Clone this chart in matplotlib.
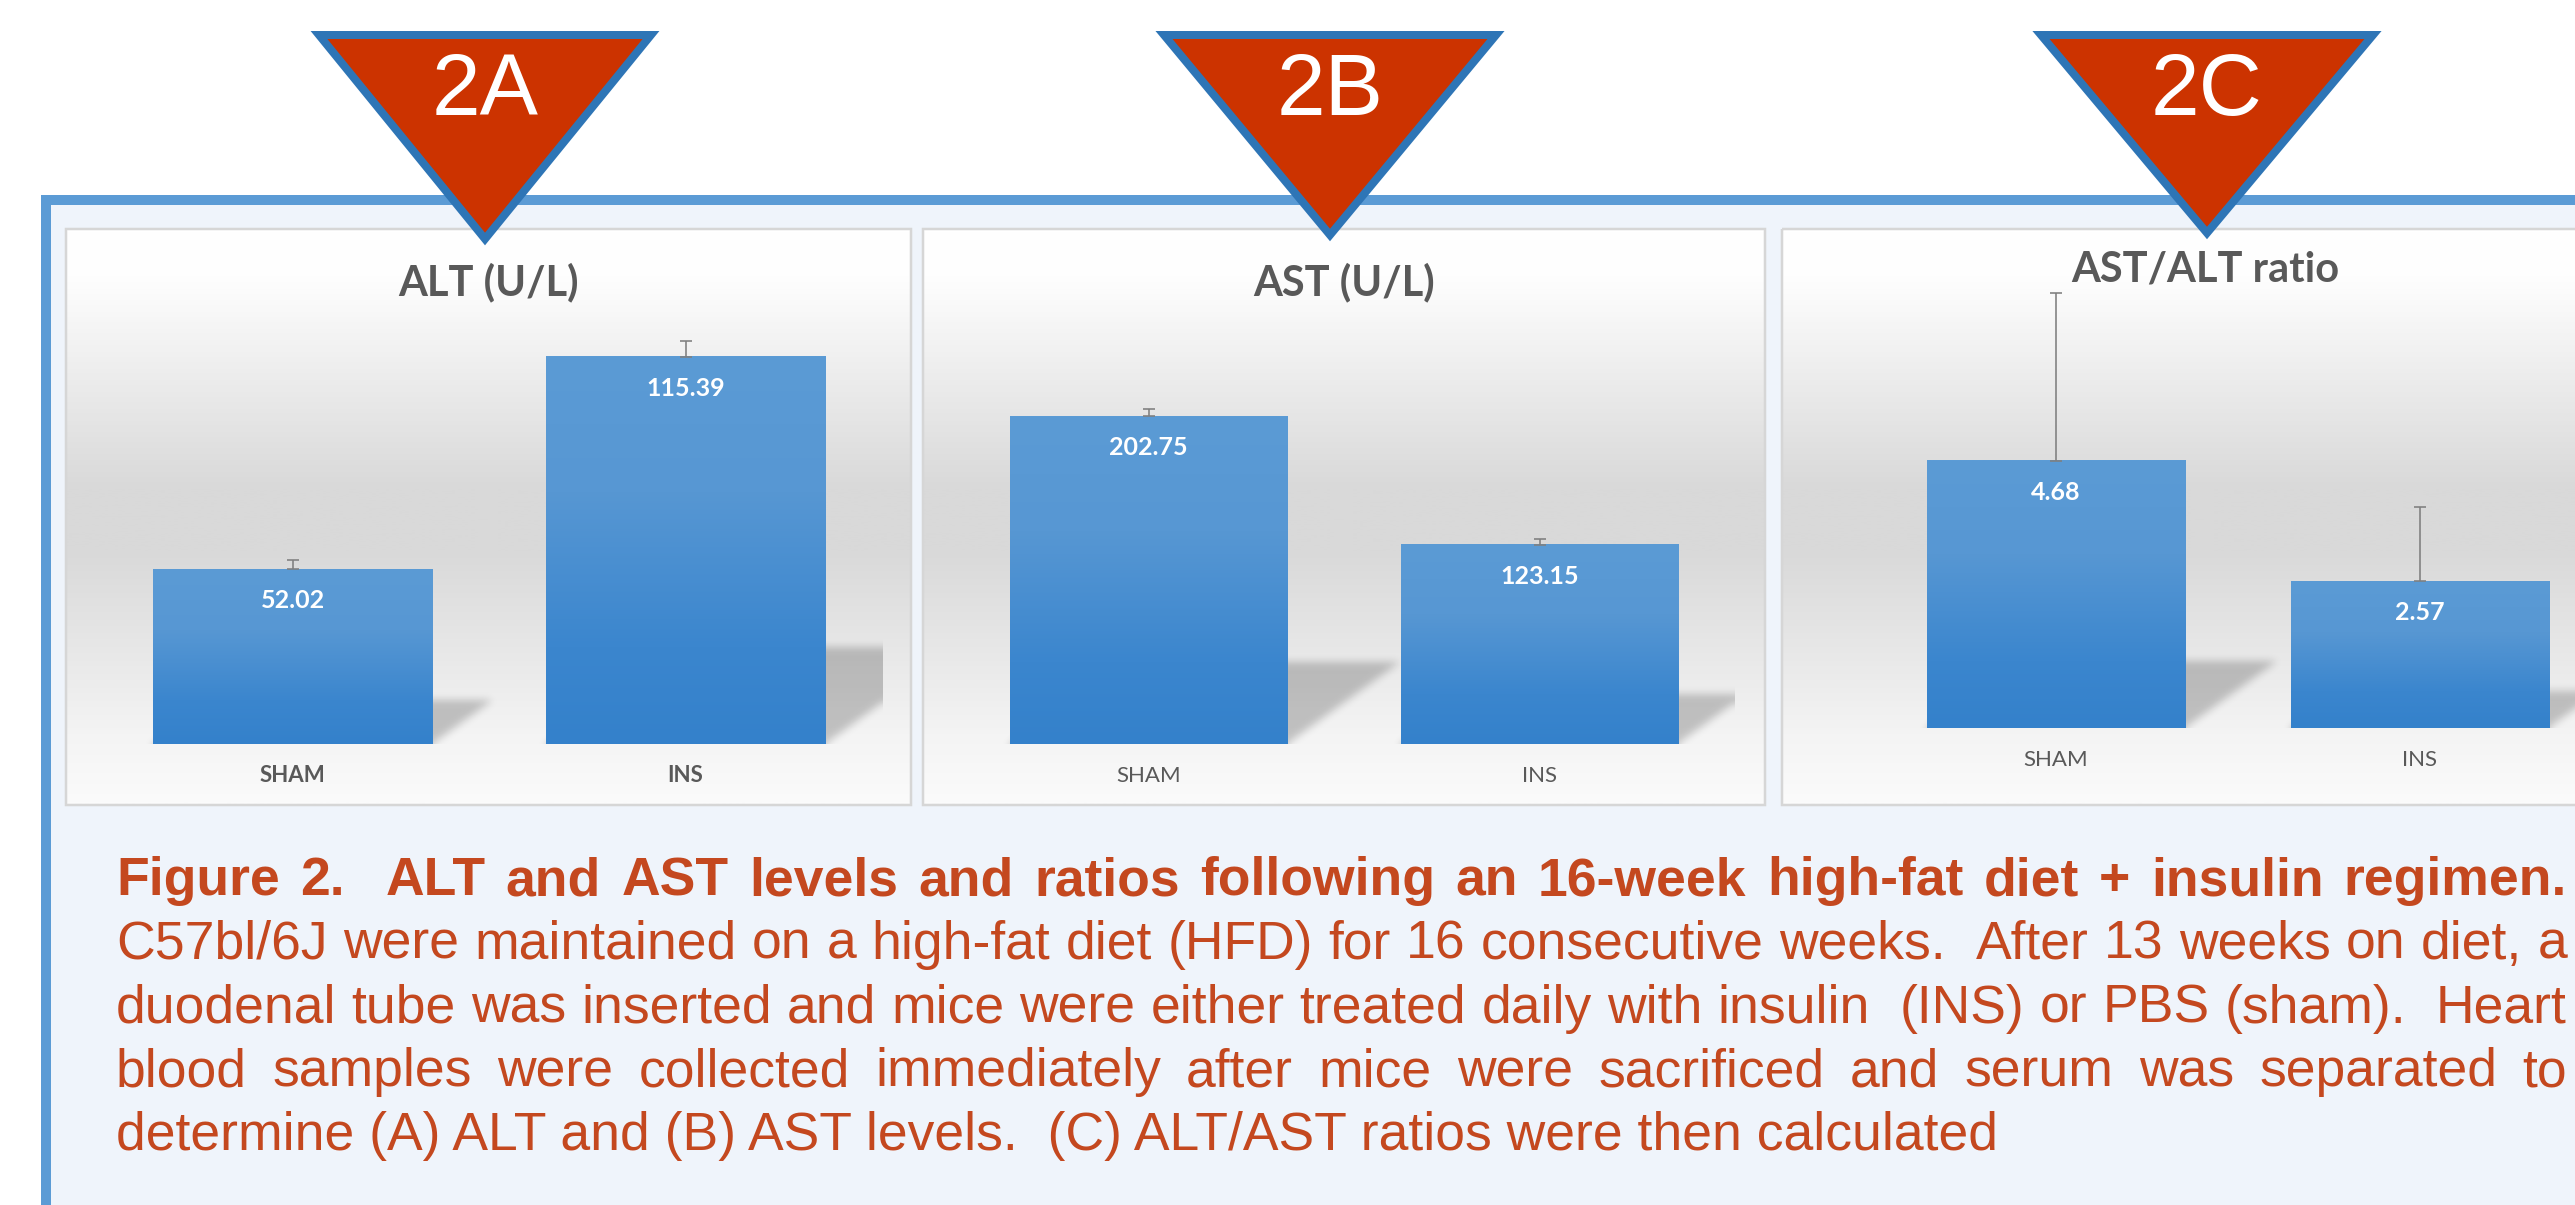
import matplotlib
matplotlib.use('Agg')  # no display
import numpy as np
import matplotlib.pyplot as plt
from matplotlib.patches import Polygon, Rectangle
from matplotlib.colors import LinearSegmentedColormap

W, H = 2575, 1205
DPI = 100
PT = 72 / DPI  # points per pixel

# Data
groups = ['SHAM', 'INS']
panel_titles = ['ALT (U/L)', 'AST (U/L)', 'AST/ALT ratio']
panel_tags = ['2A', '2B', '2C']
alt_values = [52.02, 115.39]
alt_errors = [2.7, 4.6]
ast_values = [202.75, 123.15]
ast_errors = [4.3, 3.7]
ratio_values = [4.68, 2.57]
ratio_errors = [2.94, 1.30]
caption_lines = [
    'Figure 2.  ALT and AST levels and ratios following an 16-week high-fat diet + insulin regimen.',
    'C57bl/6J were maintained on a high-fat diet (HFD) for 16 consecutive weeks.  After 13 weeks on diet, a',
    'duodenal tube was inserted and mice were either treated daily with insulin  (INS) or PBS (sham).  Heart',
    'blood samples were collected immediately after mice were sacrificed and serum was separated to',
    'determine (A) ALT and (B) AST levels.  (C) ALT/AST ratios were then calculated',
]

# Styles
CHART_FONT = ['Lato', 'DejaVu Sans']
TEXT_FONT = ['Liberation Sans', 'DejaVu Sans']
GREY_TEXT = '#595959'
CAPTION_RED = '#C4481F'
TAG_RED = '#CC3300'
TAG_EDGE = '#2E75B6'
FRAME_BLUE = '#5B9BD5'
FRAME_FILL = '#EFF4FB'
BAR_WIDTH = 0.71
SHADOW_DEPTH = 0.25
SHADOW_SHEAR = 1.38

# Layout in pixels: panel box, plot area (left, top, right, bottom), y max
panels = [
    dict(values=alt_values, errors=alt_errors, box=(66, 911), plot=(96, 274, 882, 744),
         ymax=140, title_y=295, bold=True, tag_x=485, tag_apex=245),
    dict(values=ast_values, errors=ast_errors, box=(923, 1765), plot=(953, 340, 1735, 744),
         ymax=250, title_y=295, bold=False, tag_x=1330, tag_apex=241),
    dict(values=ratio_values, errors=ratio_errors, box=(1782, 2628), plot=(1874, 271, 2602, 728),
         ymax=8, title_y=282, bold=False, tag_x=2207, tag_apex=239),
]
PANEL_TOP, PANEL_BOTTOM = 229, 805

panel_cmap = LinearSegmentedColormap.from_list('panel', [
    (0.0, '#FFFFFF'), (0.08, '#FEFEFE'), (0.45, '#D9D9D9'), (0.56, '#D9D9D9'),
    (0.88, '#F4F4F4'), (1.0, '#FBFBFB')])
bar_cmap = LinearSegmentedColormap.from_list('bar', [
    (0.0, '#5B9BD5'), (0.35, '#5797D3'), (0.75, '#3B86CE'), (1.0, '#3481CB')])

fig = plt.figure(figsize=(W / DPI, H / DPI), dpi=DPI)
fig.patch.set_facecolor('white')


def px_axes(left, top, right, bottom, zorder):
    ax = fig.add_axes([left / W, 1 - bottom / H, (right - left) / W, (bottom - top) / H])
    ax.set_zorder(zorder)
    return ax


def blur(a, sigma):
    r = int(3 * sigma)
    k = np.exp(-0.5 * (np.arange(-r, r + 1) / sigma) ** 2)
    k /= k.sum()
    a = np.pad(a, r, mode='edge')
    a = np.apply_along_axis(lambda m: np.convolve(m, k, mode='same'), 0, a)
    a = np.apply_along_axis(lambda m: np.convolve(m, k, mode='same'), 1, a)
    return a[r:-r, r:-r]


# background layer: frame and panel boxes
bg = px_axes(0, 0, W, H, 0)
bg.axis('off')
bg.add_patch(Rectangle((46, 200), 2700, 1100, fc=FRAME_FILL, ec=FRAME_BLUE, lw=10 * PT))
grad = np.linspace(0, 1, 300).reshape(-1, 1)
for p, title in zip(panels, panel_titles):
    bl, br = p['box']
    bg.imshow(grad, cmap=panel_cmap, extent=(bl, br, PANEL_BOTTOM, PANEL_TOP),
              origin='upper', aspect='auto', zorder=1)
    bg.add_patch(Rectangle((bl, PANEL_TOP), br - bl, PANEL_BOTTOM - PANEL_TOP,
                           fc='none', ec='#D6D6D6', lw=2.5 * PT, zorder=2))
    bg.text((bl + br) / 2, p['title_y'], title, ha='center', va='baseline',
            fontsize=30, fontweight='bold', color=GREY_TEXT, family=CHART_FONT, zorder=3)
bg.set_xlim(0, W)
bg.set_ylim(H, 0)

# the three bar charts
x = np.arange(len(groups))
for p in panels:
    left, top, right, bottom = p['plot']
    ax = px_axes(left, top, right, bottom, 1)
    ax.axis('off')
    xlim = (-0.5, len(groups) - 0.5)
    ymax = p['ymax']
    wpx, hpx = right - left, bottom - top

    # perspective shadows behind the bars
    xs = np.linspace(xlim[0], xlim[1], wpx)
    ys = np.linspace(ymax, 0, hpx)
    X, Y = np.meshgrid(xs, ys)
    px_x = wpx / (xlim[1] - xlim[0])
    px_y = hpx / ymax
    mask = np.zeros_like(X)
    for c, v in zip(x, p['values']):
        sh = SHADOW_DEPTH * v
        dx = SHADOW_SHEAR * sh * px_y / px_x
        t = Y / sh
        inside = (Y <= sh) & (X >= c - BAR_WIDTH / 2 + dx * t) & (X <= c + BAR_WIDTH / 2 + dx * t)
        mask = np.maximum(mask, inside.astype(float))
    mask = blur(mask, 4)
    shade = np.zeros((hpx, wpx, 4))
    shade[..., 3] = mask * 0.21
    ax.imshow(shade, extent=(xlim[0], xlim[1], 0, ymax), origin='upper',
              aspect='auto', interpolation='bilinear', zorder=1)

    bars = ax.bar(x, p['values'], width=BAR_WIDTH, color='#4A8ED2', zorder=2)
    bar_grad = bar_cmap(np.linspace(0, 1, 256))[:, None, :]
    for b in bars:
        ax.imshow(bar_grad, extent=(b.get_x(), b.get_x() + b.get_width(), 0, b.get_height()),
                  origin='upper', aspect='auto', zorder=2.5)

    ax.errorbar(x, p['values'], yerr=[np.zeros(len(x)), p['errors']], fmt='none',
                ecolor='#7F7F7F', elinewidth=1.6 * PT, capsize=6.2 * PT, capthick=1.6 * PT,
                zorder=5, clip_on=False)

    for xi, v, g in zip(x, p['values'], groups):
        ax.annotate(f'{v:.2f}', (xi, v), xytext=(0, -39 * PT), textcoords='offset points',
                    ha='center', va='baseline', color='white', fontsize=18,
                    fontweight='bold', family=CHART_FONT, zorder=6, annotation_clip=False)
        ax.annotate(g, (xi, 0), xytext=(0, -38.5 * PT), textcoords='offset points',
                    ha='center', va='baseline', color=GREY_TEXT, fontsize=16,
                    fontweight='bold' if p['bold'] else 'normal', family=CHART_FONT,
                    annotation_clip=False)
    ax.set_xlim(*xlim)
    ax.set_ylim(0, ymax)

# top layer: tags and caption
top = px_axes(0, 0, W, H, 3)
top.axis('off')
top.set_xlim(0, W)
top.set_ylim(H, 0)
for p, tag in zip(panels, panel_tags):
    c = p['tag_x']
    top.add_patch(Polygon([(c - 166, 35), (c + 166, 35), (c, p['tag_apex'] - 6)], closed=True,
                          fc=TAG_RED, ec=TAG_EDGE, lw=8 * PT, joinstyle='miter'))
    top.text(c, 115, tag, ha='center', va='baseline', color='white', fontsize=63,
             family=TEXT_FONT)

CAPTION_LEFT, CAPTION_RIGHT = 116, 2567
CAPTION_Y0, CAPTION_STEP = 895, 63.8
renderer = fig.canvas.get_renderer()
for i, line in enumerate(caption_lines):
    y = CAPTION_Y0 + i * CAPTION_STEP
    weight = 'bold' if i == 0 else 'normal'
    style = dict(va='baseline', ha='left', color=CAPTION_RED, fontsize=38.5,
                 fontweight=weight, family=TEXT_FONT)
    if i == len(caption_lines) - 1:
        top.text(CAPTION_LEFT, y, line, **style)
        continue
    tokens = line.split(' ')
    texts, widths = [], []
    for tok in tokens:
        if tok:
            t = top.text(0, y, tok, **style)
            texts.append(t)
            widths.append(t.get_window_extent(renderer).width)
        else:
            texts.append(None)
            widths.append(0.0)
    gap = (CAPTION_RIGHT - CAPTION_LEFT - sum(widths)) / (len(tokens) - 1)
    xpos = CAPTION_LEFT
    for t, wd in zip(texts, widths):
        if t is not None:
            t.set_x(xpos)
        xpos += wd + gap

fig.savefig('out.png', dpi=DPI)
